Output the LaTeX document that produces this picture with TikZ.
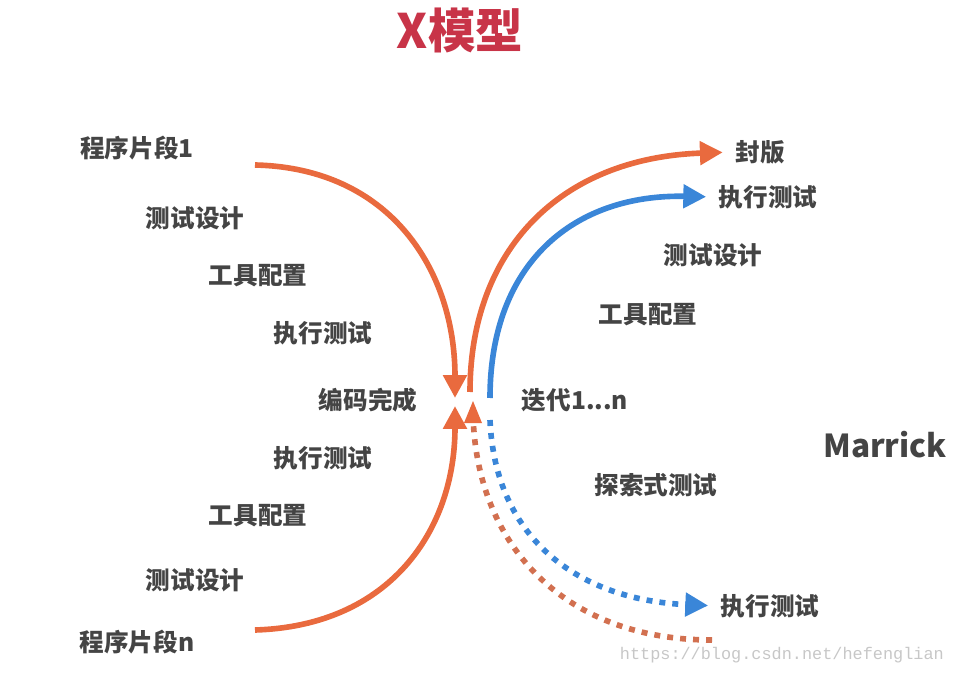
\documentclass[tikz,border=0pt]{standalone}
\usepackage{fontspec}
\setmainfont{Noto Sans CJK SC}
\newfontfamily\wmfont{Liberation Mono}
\definecolor{xred}{RGB}{200,52,72}
\definecolor{xorange}{RGB}{233,106,62}
\definecolor{xbrown}{RGB}{210,112,80}
\definecolor{xblue}{RGB}{58,134,216}
\definecolor{xtext}{RGB}{68,68,68}
\usetikzlibrary{arrows.meta,positioning}

\begin{document}
\begin{tikzpicture}[x=0.02cm, y=-0.02cm,
    step lbl/.style={text=xtext, font=\fontsize{14}{16}\selectfont\bfseries, inner sep=1pt},
    flow/.style={line width=3.2pt, -{Triangle[length=13pt,width=13pt]}},
    dotflow/.style={line width=3.2pt, dash pattern=on 3.4pt off 4pt}]
    \useasboundingbox (0,0) rectangle (960,675);

    % title
    \node[text=xred, font=\fontsize{27}{30}\selectfont\bfseries] (title) at (460,30) {X模型};

    % left side: coding
    \node[step lbl] (prog1) at (137,148) {程序片段1};
    \node[step lbl] (designA) at (195,218) {测试设计};
    \node[step lbl] (toolA) at (258,276) {工具配置};
    \node[step lbl] (execA) at (323,333) {执行测试};
    \node[step lbl] (done) at (368,400) {编码完成};
    \node[step lbl] (execB) at (323,458) {执行测试};
    \node[step lbl] (toolB) at (258,516) {工具配置};
    \node[step lbl] (designB) at (195,580) {测试设计};
    \node[step lbl] (progn) at (137,642) {程序片段n};

    % right side: integration
    \node[step lbl] (release) at (760,152) {封版};
    \node[step lbl] (execC) at (768,197) {执行测试};
    \node[step lbl] (designC) at (713,255) {测试设计};
    \node[step lbl] (toolC) at (648,315) {工具配置};
    \node[step lbl] (iter) at (575,400) {迭代1...n};
    \node[step lbl] (explore) at (656,485) {探索式测试};
    \node[step lbl] (execD) at (770,606) {执行测试};
    \node[text=xtext, font=\fontsize{18}{20}\selectfont\bfseries] (author) at (885,445) {Marrick};

    % curve ends
    \coordinate (tl) at (255,165);
    \coordinate (bl) at (255,630);
    \coordinate (midA) at (455,398);
    \coordinate (midB) at (455,406);
    \coordinate (midC) at (470,392);
    \coordinate (midD) at (490,398);
    \coordinate (midE) at (490,420);
    \coordinate (midF) at (473,408);
    \coordinate (br) at (712,640);

    \draw[flow, xorange] (tl) .. controls (390,168) and (455,270) .. (midA);
    \draw[flow, xorange] (bl) .. controls (390,626) and (455,530) .. (midB);
    \draw[flow, xorange, shorten >=6pt] (midC) .. controls (470,250) and (560,158) .. (release.west);
    \draw[flow, xblue, shorten >=6pt] (midD) .. controls (490,262) and (575,194) .. (execC.west);
    \draw[dotflow, xblue, -{Triangle[length=13pt,width=13pt]}, shorten >=6pt] (midE) .. controls (495,540) and (580,600) .. (execD.west);
    \draw[dotflow, xbrown] (br) .. controls (560,640) and (473,540) .. (midF);
    \fill[xorange] (midF) ++(-9,15) -- ++(9,-22) -- ++(9,22) -- cycle;

    % watermark
    \node[text=black!22, font=\wmfont\fontsize{9.6}{11}\selectfont, anchor=east] (mark) at (950,655) {https://blog.csdn.net/hefenglian};
\end{tikzpicture}
\end{document}
